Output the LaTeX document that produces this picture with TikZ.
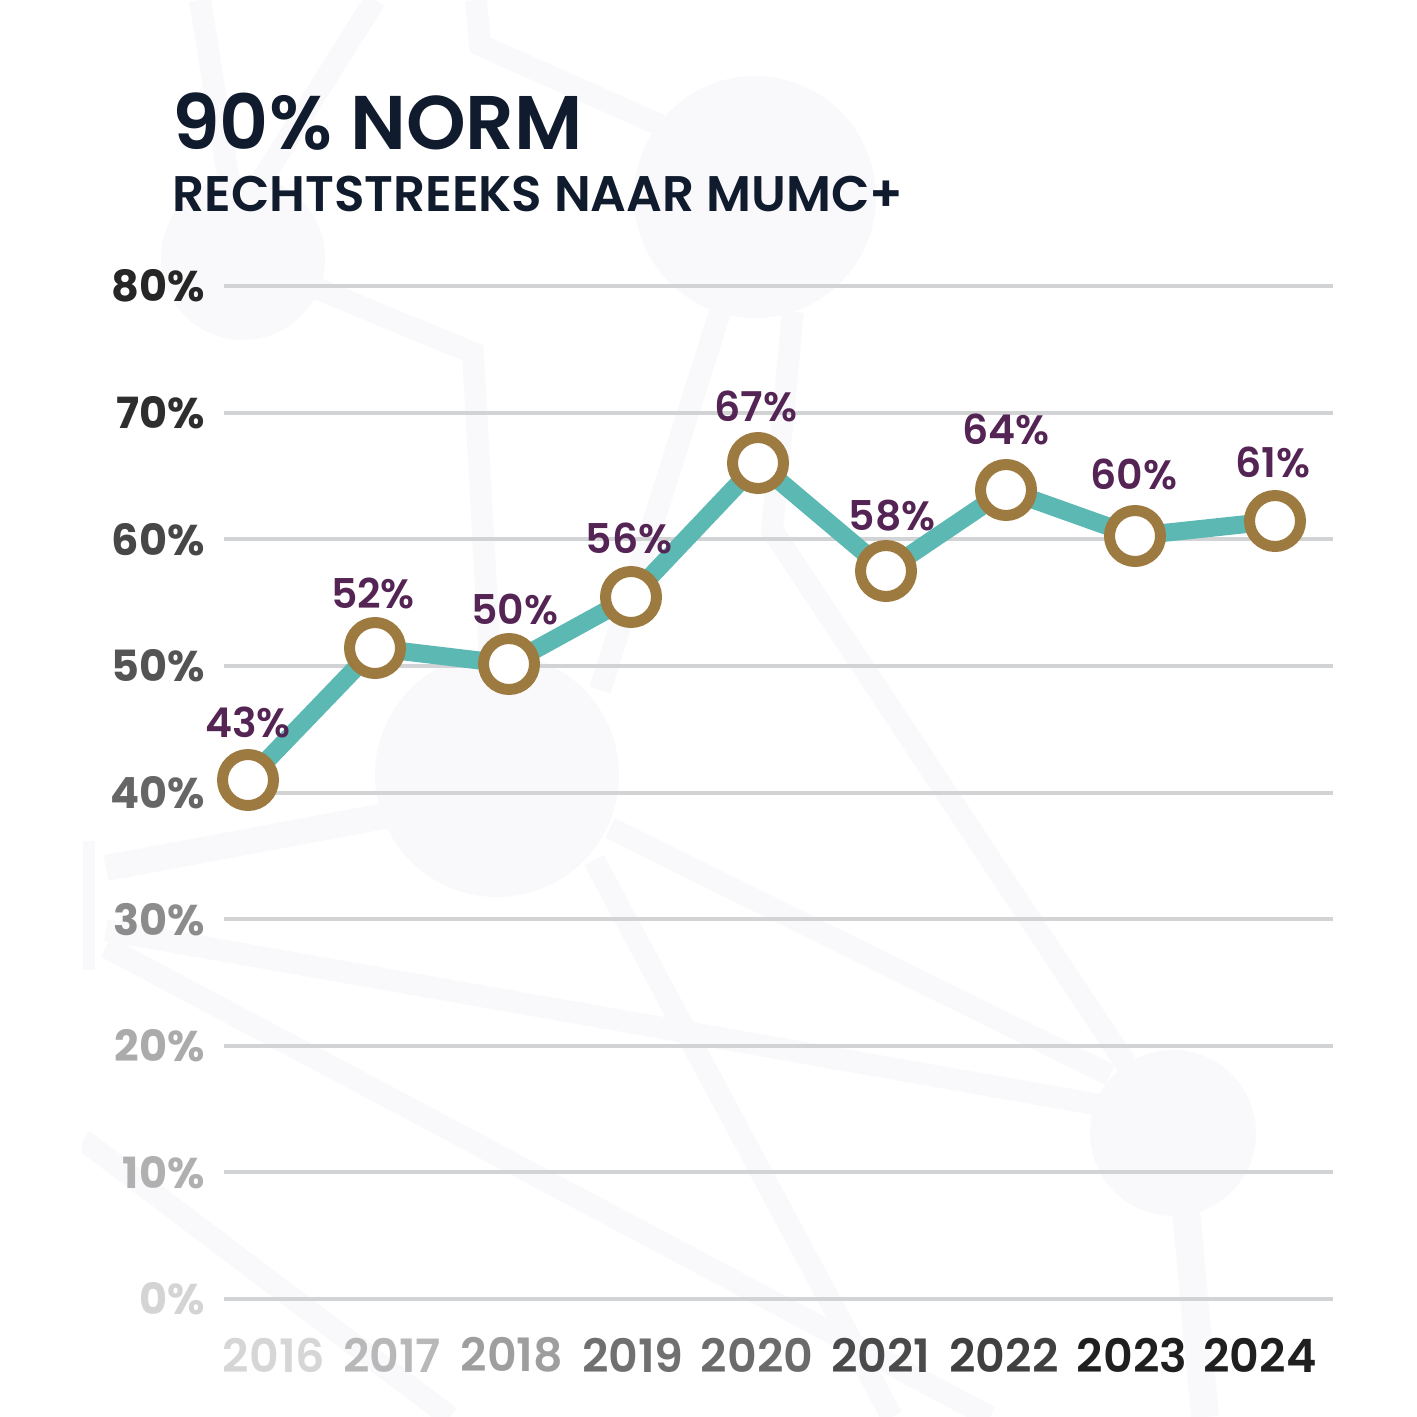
\documentclass[tikz,border=0pt]{standalone}
\usepackage{fontspec}
\setmainfont{Poppins}[UprightFont={* SemiBold},BoldFont={* Bold}]
\usepackage{xcolor}
\definecolor{navy}{RGB}{16,27,45}
\definecolor{trendteal}{RGB}{92,184,178}
\definecolor{ringgold}{RGB}{156,122,64}
\definecolor{labelplum}{RGB}{84,36,84}
\definecolor{gridgrey}{RGB}{210,211,213}
\definecolor{wmgrey}{RGB}{249,248,250}

\begin{document}
\begin{tikzpicture}[x=0.5pt,y=-0.5pt,
	wm/.style={line width=11pt, draw=wmgrey},
	gridline/.style={line width=2pt, draw=gridgrey},
	ylab/.style={anchor=east, inner sep=0pt, font=\fontsize{21.5}{24}\selectfont\bfseries},
	yearlab/.style={anchor=center, inner sep=0pt, font=\fontsize{23}{26}\selectfont},
	trend/.style={line width=9pt, draw=trendteal, line join=round, line cap=round},
	ring/.style={circle, draw=ringgold, fill=white, line width=5.5pt, minimum size=25.5pt, inner sep=0pt},
	val/.style={inner sep=0pt, text=labelplum, font=\fontsize{20.5}{23}\selectfont}]
	\useasboundingbox (0,0) rectangle (1417,1417);
	
	% watermark network
	\begin{scope}
		\clip (82,0) rectangle (1417,1417);
		\fill[wmgrey] (755,197) circle (121);
		\fill[wmgrey] (243,258) circle (82);
		\fill[wmgrey] (497,775) circle (122);
		\fill[wmgrey] (1173,1133) circle (83);
		\fill[wmgrey] (83,841) rectangle (95,970);
		\draw[wm] (200,0) -- (232,200);
		\draw[wm] (375,0) -- (262,180);
		\draw[wm] (476,0) -- (480,45) -- (660,125);
		\draw[wm] (243,258) -- (473,353) -- (490,660);
		\draw[wm] (720,312) -- (600,690);
		\draw[wm] (793,312) -- (772,530) -- (1140,1085);
		\draw[wm, line width=13pt] (390,815) -- (106,868);
		\draw[wm] (106,930) -- (1100,1105);
		\draw[wm] (610,828) -- (1110,1075);
		\draw[wm] (594,860) -- (892,1417);
		\draw[wm] (106,947) -- (990,1417);
		\draw[wm] (83,1140) -- (450,1417);
		\draw[wm, line width=14pt] (1186,1210) -- (1205,1417);
	\end{scope}
	
	% titles
	\node[anchor=base west, inner sep=0pt, text=navy, font=\fontsize{38}{40}\selectfont] (title) at (172,150) {90\% NORM};
	\node[anchor=base west, inner sep=0pt, text=navy, font=\fontsize{25}{27}\selectfont] (subtitle) at ([yshift=-31pt]title.base west) {RECHTSTREEKS NAAR MUMC+};
	
	% grid and axis labels
	\foreach \k/\t/\g in {0/0/17,1/10/31,2/20/33,3/30/45,4/40/60,5/50/67,6/60/72,7/70/82,8/80/85}{
		\draw[gridline] (224,{1299-126.6*\k}) -- (1333,{1299-126.6*\k});
		\node[ylab, text=black!\g] (ylab\k) at (205,{1299-126.6*\k}) {\t\%};
	}
	\foreach \x/\yr/\g in {274/2016/16,392/2017/28,512/2018/38,633/2019/56,757/2020/58,881/2021/71,1004/2022/75,1132/2023/88,1260/2024/88}
		\node[yearlab, text=black!\g] (year\yr) at (\x,1355) {\yr};
	
	% data
	\foreach \x/\y [count=\i] in {248/780,375/648,509/664,631/597,758/463,886/571,1006/490,1135/536,1275/521}
		\coordinate (c\i) at (\x,\y);
	\draw[trend] (c1) -- (c2) -- (c3) -- (c4) -- (c5) -- (c6) -- (c7) -- (c8) -- (c9);
	\foreach \i in {1,...,9}
		\node[ring] (m\i) at (c\i) {};
	\foreach \x/\y/\v [count=\i] in {248/722/43,373/593/52,515/610/50,629/538/56,756/406/67,892/516/58,1006/429/64,1134/474/60,1273/462/61}
		\node[val] (v\i) at (\x,\y) {\v\%};
	
\end{tikzpicture}
\end{document}
